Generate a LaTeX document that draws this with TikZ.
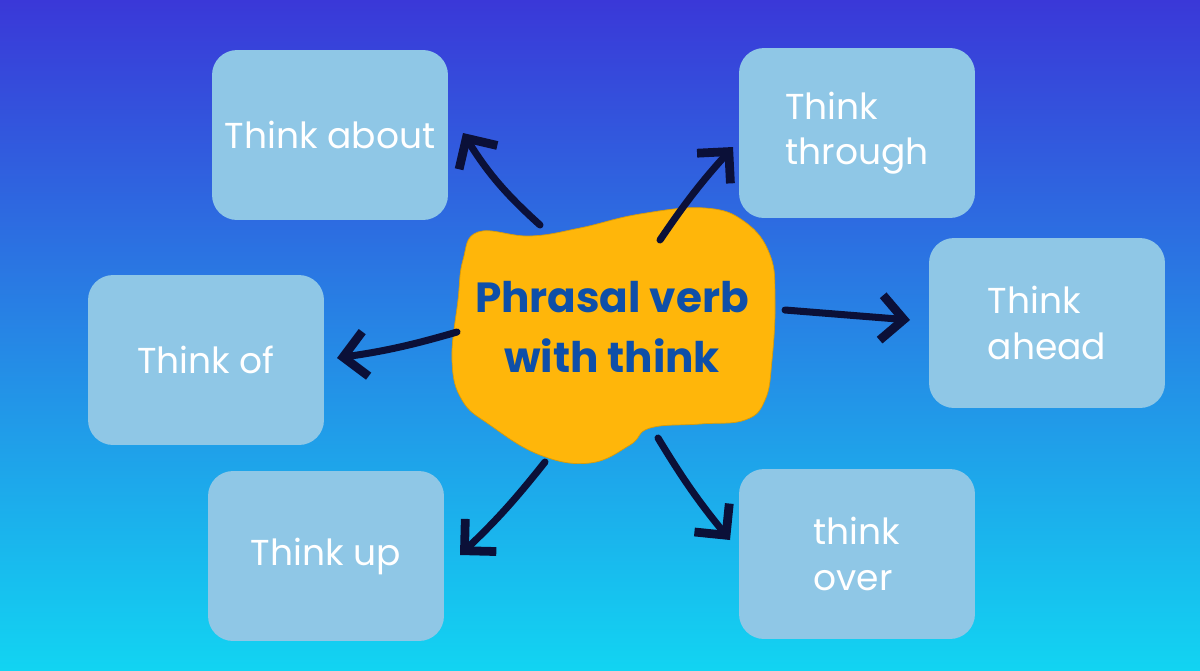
\documentclass[tikz,border=0pt]{standalone}
\usepackage{fontspec}
\setmainfont{Poppins}
\usetikzlibrary{arrows.meta}

\definecolor{topblue}{HTML}{3A38D8}
\definecolor{midblue}{HTML}{2290E8}
\definecolor{lowblue}{HTML}{12D4F2}
\definecolor{boxblue}{HTML}{8FC7E6}
\definecolor{blobyellow}{HTML}{FFB60A}
\definecolor{titleblue}{HTML}{0E4FA8}
\definecolor{ink}{HTML}{0B1038}

\begin{document}
\begin{tikzpicture}[
	x=0.02cm, y=-0.02cm, % one unit is one pixel, y runs down
	>={Straight Barb[length=4.5mm,width=9mm,line width=5pt]}, % open barbed heads
	phrase/.style={fill=boxblue, rounded corners=0.5cm, minimum width=4.72cm,
		minimum height=3.4cm, text=white, align=left,
		font=\fontsize{20.5}{26}\selectfont},
	brush/.style={draw=ink, line width=4pt, line cap=round, ->}
]
\useasboundingbox (0,0) rectangle (1200,670);
\fill[top color=topblue, middle color=midblue, bottom color=lowblue]
	(0,0) rectangle (1200,670);

% the yellow blob in the middle
\fill[blobyellow, draw=blobyellow!85!black, line width=0.4pt]
	plot[smooth cycle, tension=0.7] coordinates {
	(478,232) (530,236) (580,228) (640,214) (705,208) (745,222) (770,255)
	(775,300) (772,360) (765,400) (745,420) (700,424) (650,428) (630,445)
	(590,463) (540,455) (490,425) (462,400) (452,360) (458,300) (463,260)};
\node[text=titleblue, align=center, font=\bfseries\fontsize{24}{34}\selectfont]
	(title) at (612,327) {Phrasal verb\\with think};

\node[phrase](about) at (330,135) {Think about};
\node[phrase](through) at (857,133) {Think\\through};
\node[phrase](ahead) at (1047,323) {Think\\ahead};
\node[phrase](of) at (206,360) {Think of};
\node[phrase](up) at (326,556) {Think up};
\node[phrase](over) at (857,554) {think\\over};

% arrow ends
\coordinate (tAbout) at (540,225);   \coordinate (hAbout) at (463,133);
\coordinate (tThrough) at (660,240); \coordinate (hThrough) at (733,147);
\coordinate (tAhead) at (785,310);   \coordinate (hAhead) at (910,320);
\coordinate (tOf) at (457,332);      \coordinate (hOf) at (337,358);
\coordinate (tUp) at (545,462);      \coordinate (hUp) at (460,555);
\coordinate (tOver) at (658,438);    \coordinate (hOver) at (730,540);

\path
(tAbout) edge[brush, bend left=8] (hAbout)
(tThrough) edge[brush, bend left=4] (hThrough)
(tAhead) edge[brush] (hAhead)
(tOf) edge[brush, bend left=4] (hOf)
(tUp) edge[brush, bend left=4] (hUp)
(tOver) edge[brush, bend right=4] (hOver)
;
\end{tikzpicture}
\end{document}
